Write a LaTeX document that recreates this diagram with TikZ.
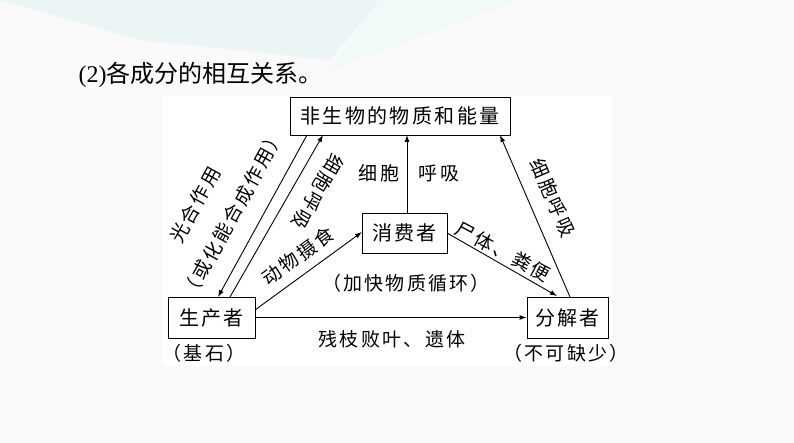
\documentclass[tikz,border=0pt]{standalone}
\usepackage{fontspec}
\usetikzlibrary{arrows.meta}
\newfontfamily\cjk{Noto Sans CJK SC}
\newfontfamily\cjksp[LetterSpace=12]{Noto Sans CJK SC}
\setmainfont{Liberation Serif}
\begin{document}
\begin{tikzpicture}[x=1pt,y=-1pt,
  box/.style={draw,line width=0.9pt,inner sep=0pt,font=\cjksp\fontsize{20}{22}\selectfont},
  lab/.style={inner sep=0pt,font=\cjksp\fontsize{19}{22}\selectfont},
  arr/.style={-{Latex[length=7pt,width=5pt]},line width=0.9pt}]
\useasboundingbox (0,0) rectangle (794,443);
\fill[gray!4] (0,0) rectangle (794,443);
\fill[teal!8] (0,0) -- (380,0) -- (330,60) -- (140,40) -- cycle;
\fill[teal!5] (380,0) -- (520,0) -- (330,70) -- cycle;
\fill[white] (163,96) rectangle (612,366);
\node[anchor=west,font=\fontsize{24}{26}\selectfont] (title) at (75,75) {(2){\cjk 各成分的相互关系。}};
\node[box,minimum width=220pt,minimum height=38pt] (top) at (400,116) {非生物的物质和能量};
\node[box,minimum width=85pt,minimum height=40pt] (c) at (404.5,233) {消费者};
\node[box,minimum width=87pt,minimum height=41pt] (p) at (211.5,317.5) {生产者};
\node[box,minimum width=81pt,minimum height=41pt] (d) at (567.5,317.5) {分解者};
\coordinate (t1) at (307,135); \coordinate (p1) at (218,297);
\coordinate (p2) at (230,297); \coordinate (t2) at (323,135);
\coordinate (t3) at (500,135); \coordinate (d3) at (570,297);
\coordinate (c2) at (407,213); \coordinate (t4) at (407,135);
\coordinate (p3) at (255,310); \coordinate (c3) at (362,232);
\coordinate (c4) at (447,233); \coordinate (d4) at (557,296);
\draw[arr] (t1) -- (p1);
\draw[arr] (p2) -- (t2);
\draw[arr] (d3) -- (t3);
\draw[arr] (c2) -- (t4);
\draw[arr] (p3) -- (c3);
\draw[arr] (c4) -- (d4);
\draw[arr] (p.east) -- (d.west);
\node[lab,rotate=61] (l1) at (195,205) {光合作用};
\node[lab,rotate=61] (l2) at (233,214) {（或化能合成作用）};
\node[lab,rotate=-120] (l3) at (318,192) {细胞呼吸};
\node[lab,rotate=36] (l4) at (298,256) {动物摄食};
\node[lab] (l5) at (379,173) {细胞};
\node[lab] (l6) at (439,173) {呼吸};
\node[lab,rotate=-28] (l7) at (503,252) {尸体、粪便};
\node[lab,rotate=-66.6] (l8) at (553,198) {细胞呼吸};
\node[lab] (l9) at (406,283) {（加快物质循环）};
\node[lab] (l10) at (392,339) {残枝败叶、遗体};
\node[lab] (l11) at (204,353) {（基石）};
\node[lab] (l12) at (566,353) {（不可缺少）};
\end{tikzpicture}
\end{document}
